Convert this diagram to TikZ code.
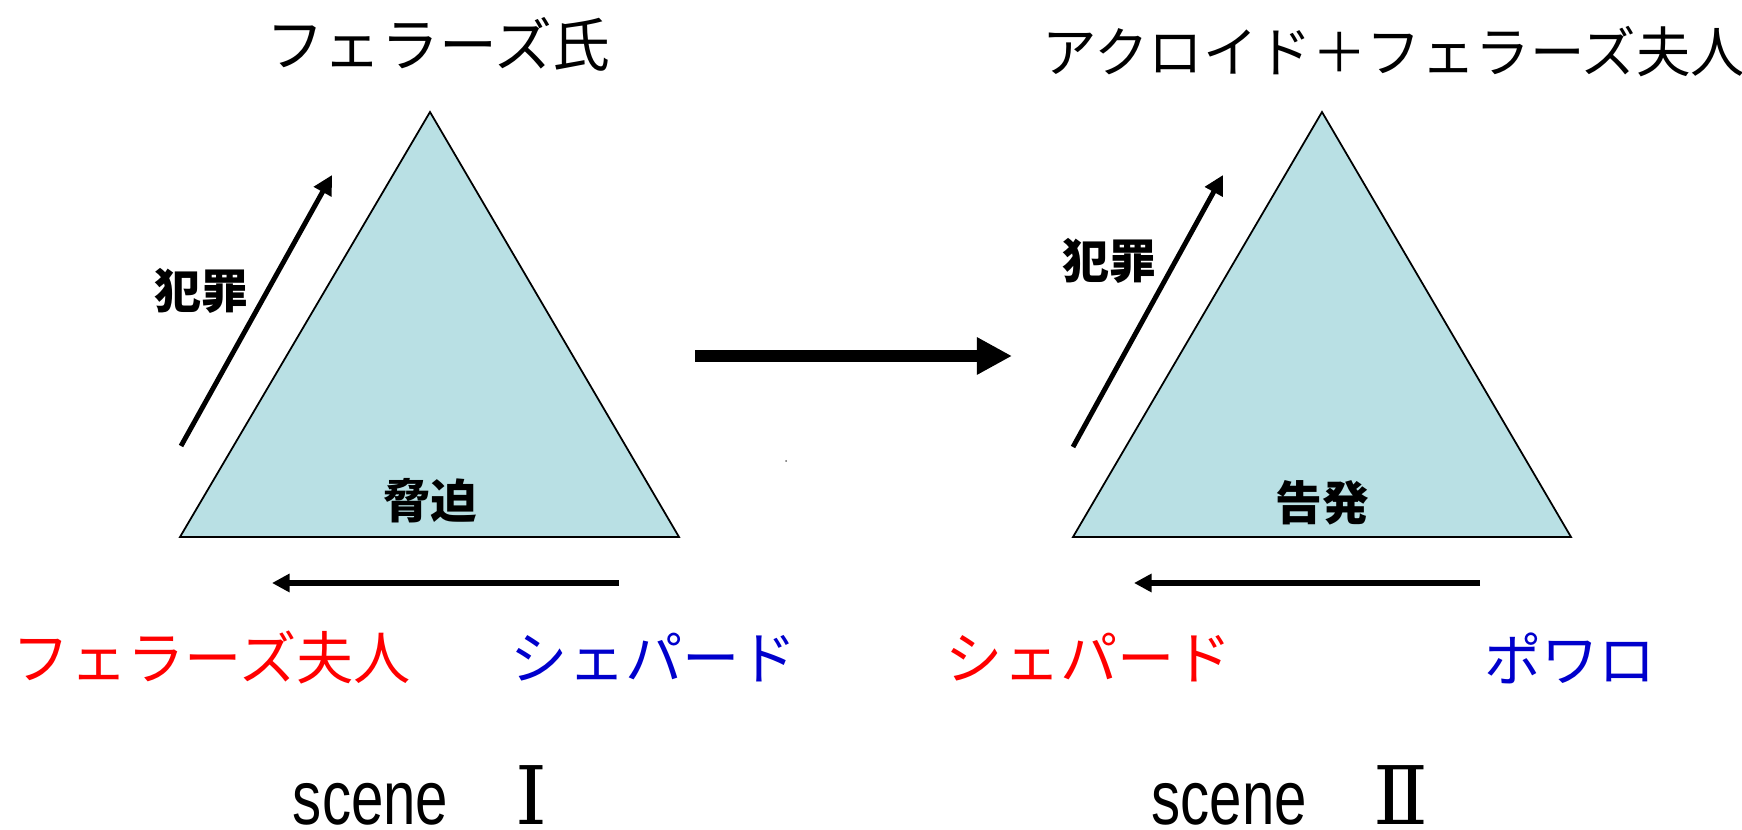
\documentclass[tikz,border=0pt]{standalone}
\usepackage{fontspec}
\usetikzlibrary{arrows.meta}
\newfontfamily\jpfont{Noto Sans CJK JP}
\newfontfamily\scenefont[FakeStretch=0.76]{Liberation Sans}
\newfontfamily\numfont{DejaVu Serif}
\definecolor{tricolor}{RGB}{185,224,228}
\definecolor{namered}{RGB}{255,0,0}
\definecolor{nameblue}{RGB}{0,0,204}

\begin{document}
\begin{tikzpicture}[x=0.02cm, y=-0.02cm,
		tri/.style={draw, line width=1pt, fill=tricolor, line join=miter},
		crime/.style={-{Triangle[length=11pt, width=11pt]}, line width=2.8pt},
		flow/.style={-{Triangle[length=10pt, width=10pt]}, line width=3.4pt},
		headline/.style={font=\fontsize{31pt}{36pt}\selectfont\jpfont},
		act/.style={font=\fontsize{26.6pt}{30pt}\selectfont\jpfont\bfseries},
		who/.style={font=\fontsize{32.6pt}{36pt}\selectfont\jpfont},
		scenename/.style={inner sep=0pt, font=\fontsize{43.6pt}{48pt}\selectfont\scenefont}]
		\useasboundingbox (0, 0) rectangle (1742, 830);
		% scene I
		\node [headline, font=\fontsize{32.9pt}{36pt}\selectfont\jpfont] (titleI) at (438, 44) {フェラーズ氏};
		\coordinate (apexI) at (430, 112);
		\coordinate (leftI) at (180, 537);
		\coordinate (rightI) at (679, 537);
		\draw [tri] (apexI) -- (leftI) -- (rightI) -- cycle;
		\coordinate (crimeIa) at (181, 446);
		\coordinate (crimeIb) at (332, 175);
		\draw [crime] (crimeIa) -- (crimeIb);
		\node [act] (crimeI) at (201, 291) {犯罪};
		\node [act] (threat) at (430, 501) {脅迫};
		\coordinate (flowIa) at (619, 583);
		\coordinate (flowIb) at (272, 583);
		\draw [flow] (flowIa) -- (flowIb);
		\node [who, namered] (victimI) at (212, 658) {フェラーズ夫人};
		\node [who, nameblue] (doctorI) at (654, 658) {シェパード};
		\node [scenename] (sceneI) at (420, 795) {scene\hspace{38pt}{\numfont\fontsize{46pt}{50pt}\selectfont Ⅰ}};
		% the change between the scenes
		\coordinate (turnA) at (695, 356);
		\coordinate (turnB) at (1012, 356);
		\draw [-{Triangle[length=20pt, width=20pt]}, line width=6.8pt] (turnA) -- (turnB);
		\fill [black!60] (786, 461) circle (1);
		% scene II
		\node [headline] (titleII) at (1394, 52) {アクロイド＋フェラーズ夫人};
		\coordinate (apexII) at (1322, 112);
		\coordinate (leftII) at (1073, 537);
		\coordinate (rightII) at (1571, 537);
		\draw [tri] (apexII) -- (leftII) -- (rightII) -- cycle;
		\coordinate (crimeIIa) at (1073, 447);
		\coordinate (crimeIIb) at (1223, 175);
		\draw [crime] (crimeIIa) -- (crimeIIb);
		\node [act] (crimeII) at (1109, 261) {犯罪};
		\node [act] (accuse) at (1322, 503) {告発};
		\coordinate (flowIIa) at (1480, 583);
		\coordinate (flowIIb) at (1134, 583);
		\draw [flow] (flowIIa) -- (flowIIb);
		\node [who, namered] (victimII) at (1089, 658) {シェパード};
		\node [who, nameblue] (detective) at (1570, 658) {ポワロ};
		\node [scenename] (sceneII) at (1290, 795) {scene\hspace{38pt}{\numfont\fontsize{46pt}{50pt}\selectfont Ⅱ}};
	\end{tikzpicture}
\end{document}
